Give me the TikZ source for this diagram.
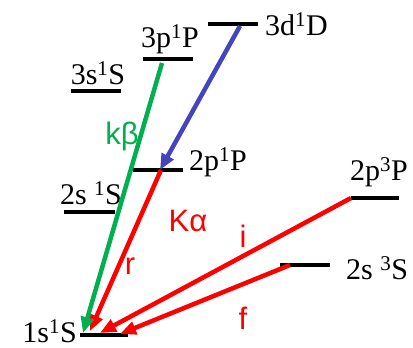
\documentclass[tikz,border=0pt]{standalone}
\usepackage{fontspec}
\setmainfont{Liberation Serif}
\newfontfamily\labelsans{Liberation Sans}
\usetikzlibrary{arrows.meta}
\definecolor{kbgreen}{RGB}{0,176,80}
\definecolor{mblue}{RGB}{68,68,190}
\tikzset{
  level/.style={line width=4pt},
  term/.style={inner sep=0pt, font=\fontsize{30}{32}\selectfont},
  trans/.style={line width=4.5pt, -{Triangle[length=16pt,width=13pt]}},
  tlabel/.style={inner sep=0pt, font=\labelsans\fontsize{31}{33}\selectfont}
}
\begin{document}
\begin{tikzpicture}[x=1pt,y=-1pt]
\useasboundingbox (0,0) rectangle (413,348);
% levels:
\coordinate (gsA) at (80,335);  \coordinate (gsB) at (128,335);
\coordinate (ssA) at (64,212);  \coordinate (ssB) at (115,212);
\coordinate (spA) at (133,170); \coordinate (spB) at (183,170);
\coordinate (tsA) at (71,91);   \coordinate (tsB) at (121,91);
\coordinate (tpA) at (143,59);  \coordinate (tpB) at (193,59);
\coordinate (tdA) at (208,24);  \coordinate (tdB) at (258,24);
\coordinate (tripA) at (351,198); \coordinate (tripB) at (399,198);
\coordinate (trisA) at (280,265); \coordinate (trisB) at (330,265);
\draw[level] (gsA) -- (gsB);
\draw[level] (ssA) -- (ssB);
\draw[level] (spA) -- (spB);
\draw[level] (tsA) -- (tsB);
\draw[level] (tpA) -- (tpB);
\draw[level] (tdA) -- (tdB);
\draw[level] (tripA) -- (tripB);
\draw[level] (trisA) -- (trisB);
% term names:
\node[term, anchor=east] (gs) at (77,331) {1s\textsuperscript{1}S};
\node[term] (ss) at (91,193) {2s \textsuperscript{1}S};
\node[term, anchor=west] (sp) at (189,162) {2p\textsuperscript{1}P};
\node[term] (ts) at (98,73) {3s\textsuperscript{1}S};
\node[term] (tp) at (170,39) {3p\textsuperscript{1}P};
\node[term, anchor=west] (td) at (265,24) {3d\textsuperscript{1}D};
\node[term] (trip) at (379,172) {2p\textsuperscript{3}P};
\node[term, anchor=west] (tris) at (346,268) {2s \textsuperscript{3}S};
% transitions:
\coordinate (kbtop) at (162,63);  \coordinate (kbend) at (83,333);
\coordinate (bltop) at (240,26);  \coordinate (blend) at (160,170);
\coordinate (rtop) at (161,170);  \coordinate (rend) at (90,331);
\coordinate (iend) at (100,333);
\coordinate (ftop) at (290,265);  \coordinate (fend) at (120,334);
\draw[trans, mblue] (bltop) -- (blend);
\draw[trans, red] (rtop) -- (rend);
\draw[trans, red] (tripA) -- (iend);
\draw[trans, red] (ftop) -- (fend);
\draw[trans, kbgreen] (kbtop) -- (kbend);
% line names:
\node[tlabel, kbgreen] (kb) at (122,136) {kβ};
\node[tlabel, red] (ka) at (188,221) {Kα};
\node[tlabel, red] (rl) at (130,266) {r};
\node[tlabel, red] (il) at (243,236) {i};
\node[tlabel, red] (fl) at (243,318) {f};
\end{tikzpicture}
\end{document}
